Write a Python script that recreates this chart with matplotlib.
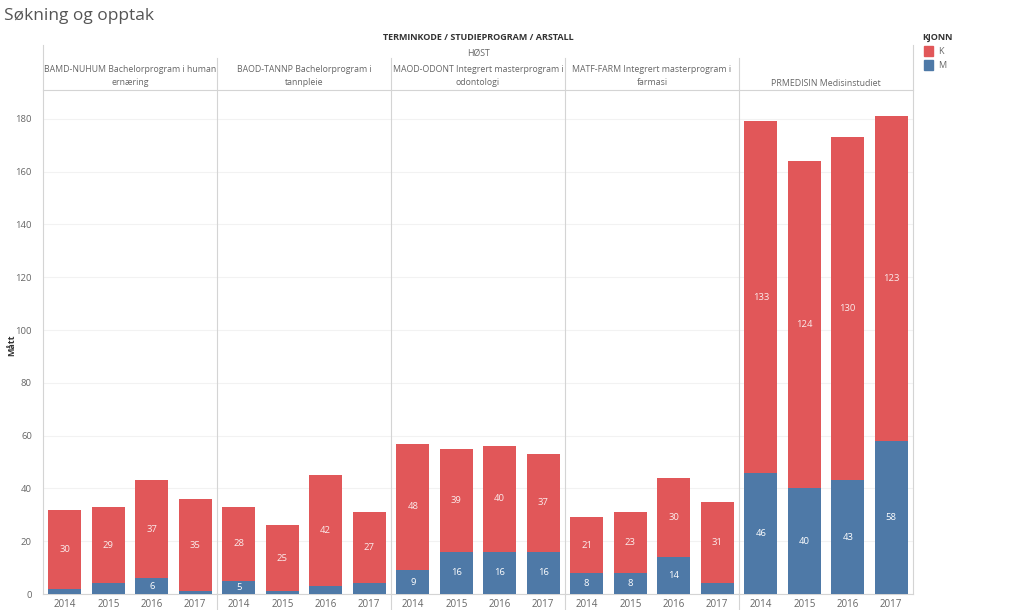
import matplotlib
matplotlib.use("Agg")
import matplotlib.pyplot as plt
from matplotlib.lines import Line2D
from matplotlib.patches import Rectangle

plt.rcParams['font.family'] = ['Open Sans', 'DejaVu Sans']

programs = [
    "BAMD-NUHUM Bachelorprogram i human\nernæring",
    "BAOD-TANNP Bachelorprogram i\ntannpleie",
    "MAOD-ODONT Integrert masterprogram i\nodontologi",
    "MATF-FARM Integrert masterprogram i\nfarmasi",
    "PRMEDISIN Medisinstudiet",
]
years = ["2014", "2015", "2016", "2017"]
values_M = [
    [2, 4, 6, 1],
    [5, 1, 3, 4],
    [9, 16, 16, 16],
    [8, 8, 14, 4],
    [46, 40, 43, 58],
]
values_K = [
    [30, 29, 37, 35],
    [28, 25, 42, 27],
    [48, 39, 40, 37],
    [21, 23, 30, 31],
    [133, 124, 130, 123],
]
yticks = [0, 20, 40, 60, 80, 100, 120, 140, 160, 180]

RED = "#E15759"
BLUE = "#4E79A7"
TXT = "#666666"
LINE = "#d4d4d4"

W, H = 1023, 610
fig = plt.figure(figsize=(W / 100, H / 100), dpi=100)

def fx(px):
    return px / W

def fy(py):
    return 1 - py / H

left, right = 43, 913
top, bottom = 89.5, 594
pw = (right - left) / len(programs)
ymax = (bottom - top) / 2.64

axes = []
for i, prog in enumerate(programs):
    ax = fig.add_axes([fx(left + i * pw), fy(bottom), fx(pw), (bottom - top) / H])
    xs = range(len(years))
    ax.bar(xs, values_M[i], width=0.76, color=BLUE, zorder=3)
    ax.bar(xs, values_K[i], width=0.76, bottom=values_M[i], color=RED, zorder=3)
    for x, m, k in zip(xs, values_M[i], values_K[i]):
        if m >= 5:
            ax.text(x, m / 2, str(m), ha='center', va='center', color='white', fontsize=6.8, zorder=4)
        if k >= 5:
            ax.text(x, m + k / 2, str(k), ha='center', va='center', color='#fbecec', fontsize=6.8, zorder=4)
    ax.set_xlim(-0.5, len(years) - 0.5)
    ax.set_ylim(0, ymax)
    ax.set_xticks(list(xs))
    ax.set_xticklabels(years)
    ax.set_yticks(yticks)
    ax.grid(axis='y', color='#f2f2f2', linewidth=0.8, zorder=0)
    ax.tick_params(axis='x', length=0, labelsize=7, labelcolor=TXT, pad=3.5)
    for s in ['top', 'right', 'left']:
        ax.spines[s].set_visible(False)
    ax.spines['bottom'].set_color(LINE)
    ax.spines['bottom'].set_linewidth(0.8)
    if i == 0:
        ax.tick_params(axis='y', length=0, labelsize=6.8, labelcolor=TXT, pad=8)
    else:
        ax.tick_params(axis='y', length=0, labelleft=False)
    axes.append(ax)
    cy = 76 if "\n" in prog else 83
    fig.text(fx(left + (i + 0.5) * pw), fy(cy), prog, ha='center', va='center',
             fontsize=6.3, color=TXT, linespacing=1.6)

# lines
fig.add_artist(Line2D([fx(left), fx(left)], [fy(45), fy(bottom)], color=LINE, lw=0.8))
fig.add_artist(Line2D([fx(right), fx(right)], [fy(45), fy(bottom)], color=LINE, lw=0.8))
for i in range(1, len(programs)):
    x = fx(left + i * pw)
    fig.add_artist(Line2D([x, x], [fy(58), fy(H)], color=LINE, lw=0.8))
fig.add_artist(Line2D([fx(left), fx(right)], [fy(top), fy(top)], color=LINE, lw=0.8))

# titles
fig.text(fx(4), fy(16), "Søkning og opptak", ha='left', va='center', fontsize=12.5, color='#555555')
fig.text(fx(478), fy(38), "TERMINKODE / STUDIEPROGRAM / ARSTALL", ha='center', va='center',
         fontsize=6.5, color='#333333', fontweight='bold')
fig.text(fx(478), fy(53), "HØST", ha='center', va='center', fontsize=6.3, color=TXT)
fig.text(fx(12), fy(345), "Mått", ha='center', va='center', rotation=90, fontsize=6.5,
         color='#333333', fontweight='bold')

# legend
fig.text(fx(922), fy(38), "KJONN", ha='left', va='center', fontsize=6.5, color='#333333', fontweight='bold')
for j, (lab, col) in enumerate([("K", RED), ("M", BLUE)]):
    yc = 51 + j * 14
    fig.add_artist(Rectangle((fx(924), fy(yc + 4.5)), fx(9), 9 / H, color=col))
    fig.text(fx(938), fy(yc), lab, ha='left', va='center', fontsize=6.5, color=TXT)

fig.savefig("out.png", dpi=100)
